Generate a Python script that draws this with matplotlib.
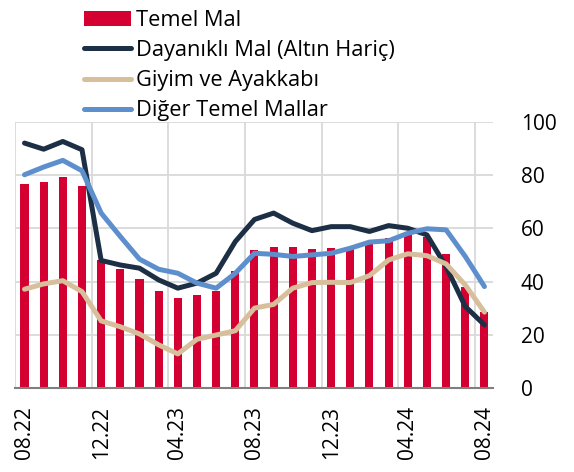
import numpy as np
import matplotlib
matplotlib.use("Agg")
import matplotlib.pyplot as plt

plt.rcParams['font.family'] = ['Open Sans', 'DejaVu Sans']

months = ["08.22", "09.22", "10.22", "11.22", "12.22", "01.23", "02.23", "03.23",
          "04.23", "05.23", "06.23", "07.23", "08.23", "09.23", "10.23", "11.23",
          "12.23", "01.24", "02.24", "03.24", "04.24", "05.24", "06.24", "07.24",
          "08.24"]

temel_mal = [76.7, 77.3, 79.4, 75.9, 48.2, 44.6, 40.9, 36.3, 33.8, 34.8, 36.3, 43.9,
             51.8, 53.0, 53.0, 52.1, 52.6, 52.8, 54.2, 56.3, 57.5, 56.9, 50.4, 38.0,
             28.7]
dayanikli = [92.0, 89.7, 92.6, 89.5, 47.9, 46.2, 45.0, 40.6, 37.5, 39.4, 43.1, 55.0,
             63.3, 65.7, 61.9, 59.1, 60.6, 60.6, 58.8, 61.0, 60.0, 57.5, 45.6, 30.6,
             23.7]
giyim = [37.1, 39.1, 40.3, 36.2, 25.2, 23.0, 20.3, 16.2, 12.8, 18.3, 19.9, 21.5,
         30.0, 31.4, 37.5, 39.6, 39.7, 39.6, 42.2, 48.1, 50.4, 49.7, 46.6, 38.7,
         28.5]
diger = [80.1, 83.0, 85.5, 81.6, 65.7, 56.9, 48.4, 44.6, 43.1, 39.4, 37.5, 43.1,
         50.6, 50.2, 49.4, 50.0, 50.6, 52.5, 54.8, 55.3, 58.1, 59.8, 59.4, 49.4,
         38.1]

x = np.arange(len(months))

fig = plt.figure(figsize=(5.74, 4.72), dpi=100)
ax = fig.add_axes([0.026, 0.178, 0.833, 0.564])

b = ax.bar(x, temel_mal, width=0.42, color='#d50032', zorder=2, label='Temel Mal')
l1, = ax.plot(x, dayanikli, color='#1c2f45', lw=3.6, zorder=3,
              solid_capstyle='round', label='Dayanıklı Mal (Altın Hariç)')
l2, = ax.plot(x, giyim, color='#d7bf9b', lw=3.6, zorder=3,
              solid_capstyle='round', label='Giyim ve Ayakkabı')
l3, = ax.plot(x, diger, color='#5e8fcd', lw=3.6, zorder=3,
              solid_capstyle='round', label='Diğer Temel Mallar')

ax.set_xlim(-0.48, 24.45)
ax.set_ylim(0, 100)
ax.yaxis.tick_right()
ax.set_yticks(np.arange(0, 101, 20))
ax.set_xticks(x[::4])
ax.set_xticklabels(months[::4], rotation=90)
ax.set_xticks(np.arange(-0.5, 24, 4), minor=True)
ax.tick_params(axis='both', which='both', length=0, labelsize=15)
ax.tick_params(axis='y', pad=20)
ax.tick_params(axis='x', pad=13)

ax.grid(axis='y', color='#d9d9d9', lw=1.3, zorder=0)
ax.grid(axis='x', which='minor', color='#d9d9d9', lw=1.3, zorder=0)
for s in ['top', 'left', 'right']:
    ax.spines[s].set_visible(False)
ax.spines['bottom'].set_color('#7f7f7f')
ax.spines['bottom'].set_linewidth(1.5)
ax.spines['bottom'].set_zorder(4)

leg = fig.legend(handles=[b, l1, l2, l3], loc='upper left',
                 bbox_to_anchor=(0.146, 0.979), frameon=False, fontsize=15.7,
                 handlelength=2.15, handletextpad=0.25, labelspacing=0.42,
                 borderaxespad=0, borderpad=0)

fig.savefig('out.png', dpi=100)
